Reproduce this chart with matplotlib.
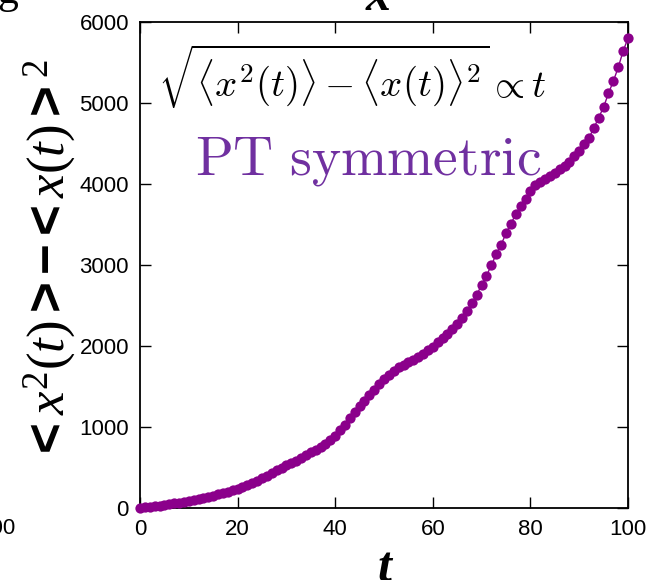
import numpy as np
import matplotlib
matplotlib.use("Agg")
import matplotlib.pyplot as plt

plt.rcParams['font.family'] = ['Liberation Sans', 'DejaVu Sans']
plt.rcParams['mathtext.rm'] = 'Liberation Serif'
plt.rcParams['mathtext.it'] = 'Liberation Serif:italic'
plt.rcParams['mathtext.bf'] = 'Liberation Sans:bold'

# time steps and the variance of the walker position
t = np.arange(0, 101)
variance = [
    5, 10, 15, 22, 30, 40, 48, 56, 65, 75, 86,
    97, 109, 122, 136, 151, 167, 184, 202, 220, 238,
    258, 282, 308, 336, 365, 398, 430, 465, 497, 527,
    556, 585, 617, 650, 686, 722, 758, 795, 838, 895,
    960, 1030, 1105, 1180, 1255, 1325, 1395, 1460, 1525, 1590,
    1645, 1695, 1735, 1770, 1800, 1830, 1860, 1900, 1945, 1990,
    2045, 2095, 2145, 2205, 2270, 2340, 2430, 2527, 2630, 2755,
    2870, 2995, 3135, 3250, 3390, 3510, 3625, 3725, 3815, 3910,
    3990, 4020, 4060, 4100, 4140, 4180, 4225, 4270, 4345, 4410,
    4500, 4570, 4690, 4820, 4950, 5120, 5270, 5440, 5640, 5800,
]
xticks = [0, 20, 40, 60, 80, 100]
yticks = [0, 1000, 2000, 3000, 4000, 5000, 6000]

W, H = 648, 580
fig = plt.figure(figsize=(W / 100, H / 100), dpi=100)
ax = fig.add_axes([140 / W, 1 - 508 / H, 488 / W, 486 / H])

ax.plot(t, variance, color='#8B008B', lw=1.0, marker='o', markersize=7.4,
        markeredgewidth=0, clip_on=False, zorder=3)

ax.set_xlim(0, 100)
ax.set_ylim(0, 6000)
ax.set_xticks(xticks)
ax.set_yticks(yticks)
ax.tick_params(direction='in', length=8, width=1, top=True, right=True,
               labelsize=16, pad=8)
for sp in ax.spines.values():
    sp.set_linewidth(1.3)

# scaling law and regime annotations
fig.text(158 / W, 1 - 98 / H,
         r'$\sqrt{\langle x^2(t)\rangle - \langle x(t)\rangle^2} \propto t$',
         fontsize=28, math_fontfamily='cm', ha='left', va='baseline')
fig.text(195 / W, 1 - 175 / H, r'$\mathrm{PT\ symmetric}$', fontsize=40,
         math_fontfamily='cm', color='#7030A0', ha='left', va='baseline')

# axis labels
fig.text(50 / W, 1 - 260 / H,
         r'$\mathbf{<}x^{2}(t)\mathbf{>}\mathbf{-}\mathbf{<}x(t)\mathbf{>}^{2}$',
         fontsize=38, math_fontfamily='custom', rotation=90,
         ha='center', va='center')
fig.text(384 / W, 1 - 582 / H, 't', fontsize=36, family='Liberation Serif',
         style='italic', weight='bold', ha='center', va='baseline')
fig.text(378 / W, 1 - 10 / H, 'x', fontsize=36, family='Liberation Serif',
         style='italic', weight='bold', ha='center', va='baseline')

# neighbouring panel fragments at the edges
fig.text(16 / W, 1 - 528 / H, '100', fontsize=16, ha='right', va='center')
fig.text(-3 / W, 1 - 3 / H, 'g', fontsize=30, family='Liberation Serif',
         ha='left', va='baseline')

fig.savefig('out.png', dpi=100)
